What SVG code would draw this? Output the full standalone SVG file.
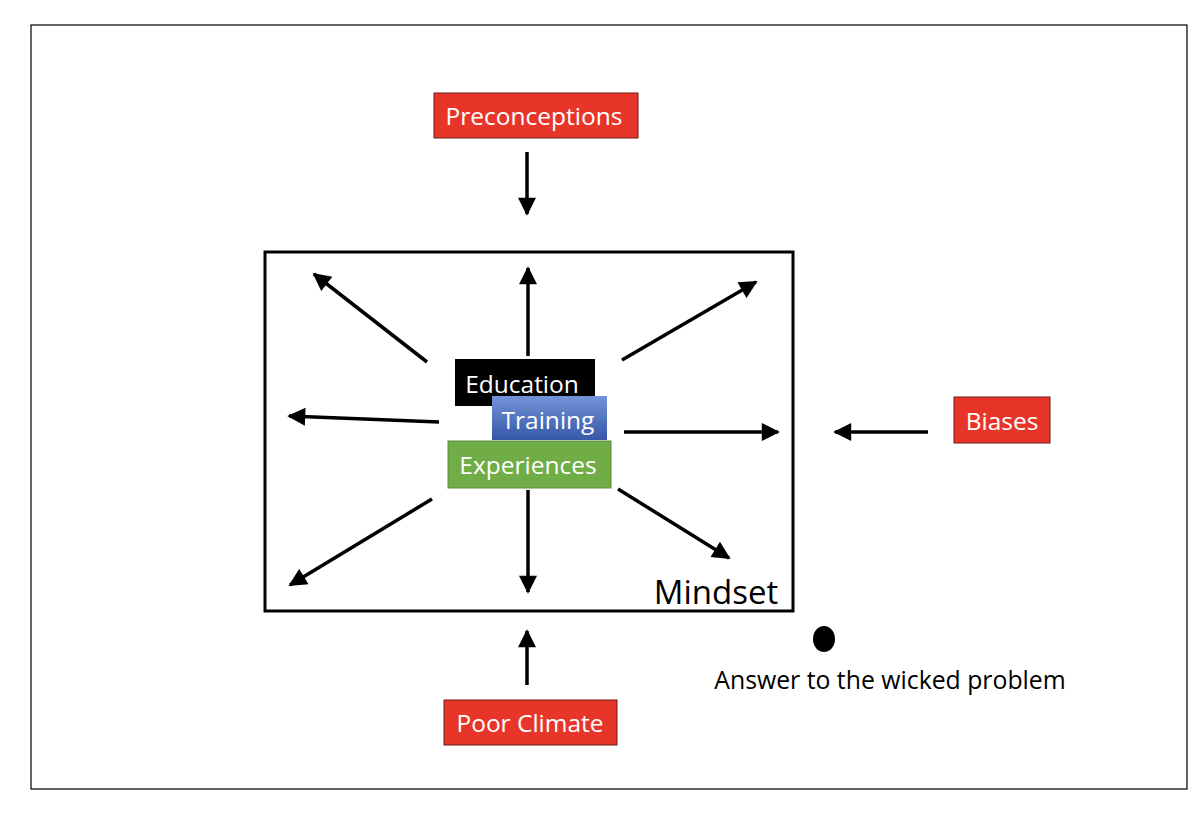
<svg xmlns="http://www.w3.org/2000/svg" width="1200" height="813" viewBox="0 0 1200 813">
<style>
.lbl{font-family:"Open Sans","Liberation Sans",sans-serif;fill:#fff;text-anchor:middle;dominant-baseline:central;font-size:24.5px}
.red{fill:#E8352A;stroke:#6b1a14;stroke-width:1}
.arr{stroke:#000;stroke-width:3.5;fill:none;marker-end:url(#ah)}
.blk{font-family:"Open Sans","Liberation Sans",sans-serif;fill:#000}
</style>
<defs>
<marker id="ah" viewBox="0 0 10 10" refX="9" refY="5" markerUnits="userSpaceOnUse" markerWidth="20" markerHeight="18" orient="auto">
<path d="M0,0 L10,5 L0,10 Z" fill="#000"/>
</marker>
<linearGradient id="tg" x1="0" y1="0" x2="0" y2="1">
<stop offset="0" stop-color="#7393D9"/>
<stop offset="1" stop-color="#3557A6"/>
</linearGradient>
</defs>
<rect x="0" y="0" width="1200" height="813" fill="#fff"/>
<rect x="31" y="25" width="1156" height="764" fill="none" stroke="#000" stroke-width="1.2"/>
<g id="mindset">
<rect x="265" y="252" width="528" height="359" fill="none" stroke="#000" stroke-width="3"/>
<text class="blk" x="716" y="604" font-size="33" text-anchor="middle">Mindset</text>
</g>
<g id="preconceptions">
<rect class="red" x="434" y="93" width="204" height="45"/>
<text class="lbl" x="534" y="115">Preconceptions</text>
</g>
<g id="biases">
<rect class="red" x="954" y="397" width="96" height="46"/>
<text class="lbl" x="1002" y="420">Biases</text>
</g>
<g id="poor-climate">
<rect class="red" x="444" y="700" width="173" height="45"/>
<text class="lbl" x="530" y="722">Poor Climate</text>
</g>
<g id="education">
<rect x="455" y="359" width="140" height="47" fill="#000"/>
<text class="lbl" x="522" y="383">Education</text>
</g>
<g id="training">
<rect x="492" y="396" width="115" height="44" fill="url(#tg)"/>
<text class="lbl" x="548" y="419">Training</text>
</g>
<g id="experiences">
<rect x="448" y="441" width="163" height="47" fill="#70AD47" stroke="#5a8c3a" stroke-width="1"/>
<text class="lbl" x="528" y="464">Experiences</text>
</g>
<g id="answer">
<ellipse cx="824" cy="639" rx="11" ry="13" fill="#000"/>
<text class="blk" x="890" y="689" font-size="24.8" text-anchor="middle">Answer to the wicked problem</text>
</g>
<g id="connectors">
<line class="arr" x1="527" y1="152" x2="527" y2="214"/>
<line class="arr" x1="528" y1="356" x2="528" y2="268"/>
<line class="arr" x1="427" y1="362" x2="314" y2="274"/>
<line class="arr" x1="622" y1="360" x2="756" y2="282"/>
<line class="arr" x1="439" y1="422" x2="289" y2="416"/>
<line class="arr" x1="624" y1="432" x2="778" y2="432"/>
<line class="arr" x1="432" y1="499" x2="290" y2="585"/>
<line class="arr" x1="528" y1="490" x2="528" y2="592"/>
<line class="arr" x1="618" y1="489" x2="729" y2="558"/>
<line class="arr" x1="928" y1="432" x2="835" y2="432"/>
<line class="arr" x1="527" y1="685" x2="527" y2="631"/>
</g>
</svg>
